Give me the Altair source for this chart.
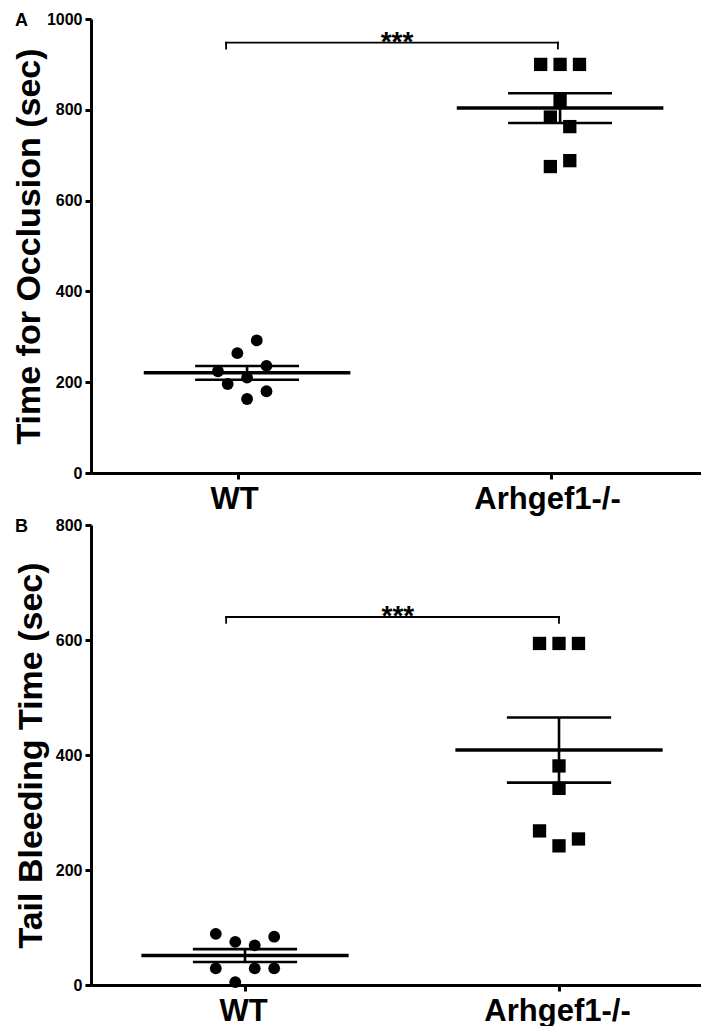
import altair as alt
import pandas as pd

groups = ["WT", "Arhgef1-/-"]

# Panel A: time for occlusion (sec), with Prism-style column slot of each point
a_wt = [292, 264, 236, 224, 210, 196, 180, 163]
a_wt_col = [1, -1, 2, -3, 0, -2, 2, 0]
a_ko = [900, 900, 900, 820, 784, 763, 688, 675]
a_ko_col = [-2, 0, 2, 0, -1, 1, 1, -1]
a_ticks = [0, 200, 400, 600, 800, 1000]

# Panel B: tail bleeding time (sec)
b_wt = [89, 84, 75, 69, 29, 29, 29, 5]
b_wt_col = [-3, 3, -1, 1, -3, 1, 3, -1]
b_ko = [594, 594, 594, 381, 342, 268, 254, 242]
b_ko_col = [-2, 0, 2, 0, 0, -2, 2, 0]
b_ticks = [0, 200, 400, 600, 800]

FONT = "Liberation Sans"
STEP = 0.031
MEAN_HALF = 0.33
SEM_HALF = 0.166
WIDTH = 610


def panel(wt, wt_col, ko, ko_col, ymax, yticks, ytitle, letter, xdom, shift,
          bracket, star_x, height, title_pad, label_off):
    df = pd.DataFrame({
        "g": [1] * len(wt) + [2] * len(ko),
        "grp": [groups[0]] * len(wt) + [groups[1]] * len(ko),
        "value": wt + ko,
        "col": wt_col + ko_col,
    })
    xs = alt.Scale(domain=xdom, nice=False, zero=False)
    ys = alt.Scale(domain=[0, ymax], nice=False)
    x_axis = alt.Axis(
        values=[1, 2],
        labelExpr=f"datum.value == 1 ? '{groups[0]}' : '{groups[1]}'",
        title=None, grid=False, labelFontSize=31, labelFontWeight="bold",
        labelPadding=5, tickSize=6, tickWidth=3, domainWidth=3,
        labelOffset=label_off, labelFont=FONT,
    )
    y_axis = alt.Axis(
        values=yticks, format="d", title=ytitle, grid=False,
        labelFontSize=16, labelFontWeight="bold", labelPadding=3,
        tickSize=6, tickWidth=3, domainWidth=3,
        titleFontSize=34, titleFontWeight="bold", titlePadding=title_pad,
        labelFont=FONT, titleFont=FONT,
    )

    base = alt.Chart(df)
    summary = base.transform_aggregate(
        mean="mean(value)", sem="stderr(value)", groupby=["g"]
    ).transform_calculate(
        cx=f"datum.g + {shift}",
        lo="datum.mean - datum.sem",
        hi="datum.mean + datum.sem",
    ).transform_calculate(
        xl=f"datum.cx - {MEAN_HALF}",
        xr=f"datum.cx + {MEAN_HALF}",
        cl=f"datum.cx - {SEM_HALF}",
        cr=f"datum.cx + {SEM_HALF}",
    )

    mean_rule = summary.mark_rule(strokeWidth=3.5, color="black").encode(
        x=alt.X("xl:Q", scale=xs, axis=x_axis), x2="xr:Q",
        y=alt.Y("mean:Q", scale=ys, axis=y_axis),
    )
    caps = summary.transform_fold(["lo", "hi"], as_=["k", "v"]).mark_rule(
        strokeWidth=2.6, color="black"
    ).encode(
        x=alt.X("cl:Q", scale=xs, axis=x_axis), x2="cr:Q",
        y=alt.Y("v:Q", scale=ys, axis=y_axis),
    )
    vert = summary.mark_rule(strokeWidth=2.6, color="black").encode(
        x=alt.X("cx:Q", scale=xs, axis=x_axis),
        y=alt.Y("lo:Q", scale=ys, axis=y_axis), y2="hi:Q",
    )
    points = base.transform_calculate(
        px=f"datum.g + {shift} + datum.col * {STEP}"
    ).mark_point(filled=True, opacity=1, color="black", strokeWidth=0).encode(
        x=alt.X("px:Q", scale=xs, axis=x_axis),
        y=alt.Y("value:Q", scale=ys, axis=y_axis),
        shape=alt.Shape("grp:N", scale=alt.Scale(domain=groups, range=["circle", "square"]), legend=None),
        size=alt.Size("grp:N", scale=alt.Scale(domain=groups, range=[140, 177]), legend=None),
    )

    x1, x2, yb, yd = bracket
    bdf = pd.DataFrame({
        "x": [x1, x1, x2], "x2": [x2, x1, x2],
        "y": [yb, yb, yb], "y2": [yb, yd, yd],
    })
    br = alt.Chart(bdf).mark_rule(strokeWidth=1.8, color="black", strokeCap="square").encode(
        x=alt.X("x:Q", scale=xs, axis=x_axis), x2="x2:Q",
        y=alt.Y("y:Q", scale=ys, axis=y_axis), y2="y2:Q",
    )
    stars = alt.Chart(pd.DataFrame({"x": [star_x], "y": [yb], "t": ["***"]})).mark_text(
        fontSize=28, fontWeight="bold", baseline="alphabetic", align="center",
        dy=8, color="black", font=FONT,
    ).encode(
        x=alt.X("x:Q", scale=xs, axis=x_axis),
        y=alt.Y("y:Q", scale=ys, axis=y_axis),
        text="t:N",
    )
    let = alt.Chart(pd.DataFrame({"t": [letter]})).mark_text(
        align="left", baseline="top", fontSize=18, fontWeight="bold",
        color="black", font=FONT,
    ).encode(x=alt.value(-76), y=alt.value(-7), text="t:N")

    return alt.layer(mean_rule, caps, vert, points, br, stars, let).properties(
        width=WIDTH, height=height
    )


panel_a = panel(a_wt, a_wt_col, a_ko, a_ko_col, 1000, a_ticks,
                "Time for Occlusion (sec)", "A", [0.5304, 2.4792], 0.029,
                (0.962, 2.022, 948, 935), 1.508, 454, 0, -4)
panel_b = panel(b_wt, b_wt_col, b_ko, b_ko_col, 800, b_ticks,
                "Tail Bleeding Time (sec)", "B", [0.5096, 2.4522], 0.0,
                (0.94, 2.0, 640, 630), 1.487, 460, 7, -2)

chart = alt.vconcat(panel_a, panel_b, spacing=3).properties(
    padding={"left": 4, "top": 3, "right": 0, "bottom": 0}
).configure(font=FONT).configure_view(strokeWidth=0).configure_axis(
    domainColor="black", tickColor="black", labelColor="black", titleColor="black"
)

chart.save("out.html", embed_options={"renderer": "svg", "actions": False})
